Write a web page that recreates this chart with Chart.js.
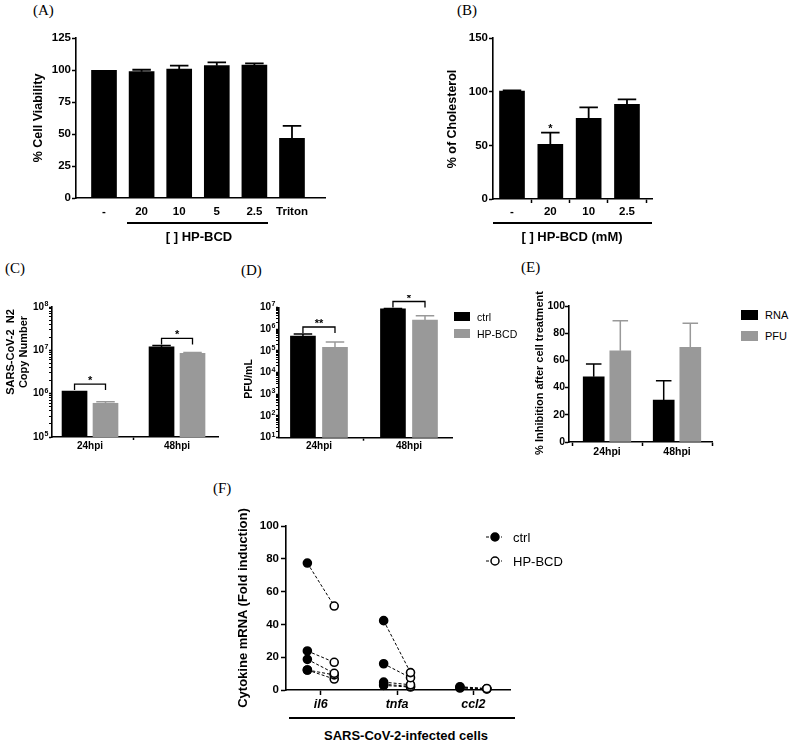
<!DOCTYPE html>
<html><head><meta charset="utf-8">
<script src="https://cdn.jsdelivr.net/npm/chart.js@4/dist/chart.umd.min.js"></script>
<style>
body{margin:0;background:#fff;}
#fig{position:relative;width:790px;height:741px;overflow:hidden;background:#fff;font-family:"Liberation Sans",Arial,sans-serif;color:#000;}
#fig canvas{position:absolute;}
.pl{position:absolute;font-family:"Liberation Serif","Times New Roman",serif;font-size:15px;line-height:1;transform:translateY(-50%);white-space:nowrap;}
.t{position:absolute;white-space:nowrap;line-height:1;transform:translate(-50%,-50%);}
.yt{position:absolute;white-space:nowrap;line-height:1.2;font-weight:bold;text-align:center;transform:translate(-50%,-50%) rotate(-90deg);}
.tl{position:absolute;white-space:nowrap;line-height:1;transform:translateY(-50%);}
.hl{position:absolute;background:#000;}
.sw{position:absolute;}
</style></head><body><div id="fig">
<canvas id="cA"></canvas><canvas id="cB"></canvas><canvas id="cC"></canvas>
<canvas id="cD"></canvas><canvas id="cE"></canvas><canvas id="cF"></canvas>

<div class="pl" style="left:33px;top:10px">(A)</div>
<div class="pl" style="left:457px;top:10px">(B)</div>
<div class="pl" style="left:5px;top:268px">(C)</div>
<div class="pl" style="left:241px;top:270px">(D)</div>
<div class="pl" style="left:521px;top:267px">(E)</div>
<div class="pl" style="left:213px;top:488px">(F)</div>

<div class="yt" style="left:38px;top:118px;font-size:12.5px">% Cell Viability</div>
<div class="yt" style="left:452px;top:118.7px;font-size:12.5px">% of Cholesterol</div>
<div class="yt" style="left:16.7px;top:352px;font-size:11px;line-height:13.4px">SARS-CoV-2&nbsp; N2<br>Copy Number</div>
<div class="yt" style="left:248px;top:379px;font-size:10.5px">PFU/mL</div>
<div class="yt" style="left:540px;top:373px;font-size:11px">% Inhibition after cell treatment</div>
<div class="yt" style="left:243px;top:608px;font-size:13px">Cytokine mRNA (Fold induction)</div>

<div class="hl" style="left:127px;top:222px;width:141px;height:2px"></div>
<div class="t" style="left:199px;top:236px;font-size:13px;font-weight:bold">[ ] HP-BCD</div>
<div class="hl" style="left:493px;top:222px;width:159px;height:2px"></div>
<div class="t" style="left:572px;top:236px;font-size:13px;font-weight:bold">[ ] HP-BCD (mM)</div>

<div class="sw" style="left:454px;top:312px;width:16px;height:9px;background:#000"></div>
<div class="tl" style="left:477px;top:316.5px;font-size:10.5px">ctrl</div>
<div class="sw" style="left:454px;top:329px;width:16px;height:9px;background:#999"></div>
<div class="tl" style="left:477px;top:333.5px;font-size:10.5px">HP-BCD</div>

<div class="sw" style="left:741px;top:310px;width:17px;height:10px;background:#000"></div>
<div class="tl" style="left:765px;top:315px;font-size:11px">RNA</div>
<div class="sw" style="left:741px;top:331px;width:17px;height:10px;background:#999"></div>
<div class="tl" style="left:765px;top:336px;font-size:11px">PFU</div>

<svg class="sw" style="left:485px;top:531px" width="18" height="12"><line x1="1" y1="6" x2="17" y2="6" stroke="#000" stroke-width="1" stroke-dasharray="3,2"/><circle cx="10" cy="6" r="4" fill="#000" stroke="#000" stroke-width="1.5"/></svg>
<div class="tl" style="left:513px;top:537px;font-size:13px">ctrl</div>
<svg class="sw" style="left:485px;top:555px" width="18" height="12"><line x1="1" y1="6" x2="17" y2="6" stroke="#000" stroke-width="1" stroke-dasharray="3,2"/><circle cx="10" cy="6" r="4" fill="#fff" stroke="#000" stroke-width="1.5"/></svg>
<div class="tl" style="left:513px;top:561px;font-size:13px">HP-BCD</div>

<div class="hl" style="left:289px;top:717px;width:226px;height:1.5px"></div>
<div class="t" style="left:406px;top:735px;font-size:13px;font-weight:bold">SARS-CoV-2-infected cells</div>
</div>
<script>
// ---------------- DATA ----------------
const catsA = ['-', '20', '10', '5', '2.5', 'Triton'];
const viabA = [100, 98.9, 101, 103.6, 104.1, 46.7];
const viabErrA = [0, 1.5, 2.6, 2.6, 1.3, 9.7];

const catsB = ['-', '20', '10', '2.5'];
const cholB = [100.8, 51.0, 75.3, 88.4];
const cholErrB = [0.6, 10.9, 10.3, 4.6];
const sigB = ['', '*', '', ''];

const timeCats = ['24hpi', '48hpi'];
const rnaCtrlC = [1.15e6, 1.2e7];
const rnaCtrlErrC = [0, 0.1e7];
const rnaHpC = [6.0e5, 8.5e6];
const rnaHpErrC = [0.5e5, 0.4e6];
const sigC = ['*', '*'];

const pfuCtrlD = [4.8e5, 8.5e6];
const pfuCtrlErrD = [1.1e5, 0.3e6];
const pfuHpD = [1.45e5, 2.6e6];
const pfuHpErrD = [1.05e5, 1.5e6];
const sigD = ['**', '*'];

const inhRnaE = [48, 30.9];
const inhRnaErrE = [9.4, 14.2];
const inhPfuE = [67.1, 69.6];
const inhPfuErrE = [22.1, 17.7];

const genesF = ['il6', 'tnfa', 'ccl2'];
const il6Ctrl = [77.4, 23.8, 18.7, 12.2, 12.2];
const il6Hp = [51.2, 16.9, 10.2, 9.2, 6.7];
const tnfaCtrl = [42.3, 16.0, 4.8, 3.5, 2.8];
const tnfaHp = [10.6, 7.5, 3.2, 2.2, 1.8];
const ccl2Ctrl = [2.0, 1.6, 1.2];
const ccl2Hp = [0.9, 0.8, 0.6];

// ---------------- STYLE ----------------
const FAM = '"Liberation Sans", Arial, sans-serif';
const BLACK = '#000000', GRAY = '#999999';
Chart.defaults.font.family = FAM;
Chart.defaults.color = '#000';
const isPow10 = v => { const e = Math.round(Math.log10(v)); return Math.abs(v - Math.pow(10, e)) < 1e-6 * v; };
function logTicks(lo, hi) {
  const t = [];
  for (let e = lo; e < hi; e++) for (let k = 1; k < 10; k++) t.push({value: k * Math.pow(10, e)});
  t.push({value: Math.pow(10, hi)});
  return t;
}

// exponents of the log-axis labels ("10" is the Chart.js tick label)
const expLabels = {
  id: 'expLabels',
  afterDraw(chart) {
    const ys = chart.scales.y;
    if (ys.type !== 'logarithmic') return;
    const ctx = chart.ctx;
    const x = chart.chartArea.left - ys.options.grid.tickLength - ys.options.ticks.padding + 0.5;
    ctx.save();
    ctx.fillStyle = '#000'; ctx.font = 'bold 7px ' + FAM;
    ctx.textAlign = 'left'; ctx.textBaseline = 'alphabetic';
    ys.ticks.forEach(t => {
      if (!isPow10(t.value)) return;
      ctx.fillText(String(Math.round(Math.log10(t.value))), x, ys.getPixelForValue(t.value) - 1);
    });
    ctx.restore();
  }
};

// error bars, stars, brackets
const annot = {
  id: 'annot',
  afterDatasetsDraw(chart, args, o) {
    const ctx = chart.ctx, ys = chart.scales.y;
    const tops = [], metas = [];
    chart.data.datasets.forEach((ds, di) => {
      const meta = chart.getDatasetMeta(di);
      metas[di] = meta; tops[di] = [];
      meta.data.forEach((bar, i) => {
        const v = ds.data[i].y, e = (ds.errPlus || [])[i] || 0;
        const yt = e ? ys.getPixelForValue(v + e) : bar.y;
        tops[di][i] = yt;
        if (!e) return;
        const hw = bar.width * 0.37;
        ctx.save();
        ctx.strokeStyle = ds.backgroundColor; ctx.lineWidth = o.lw || 1.6;
        ctx.beginPath();
        ctx.moveTo(bar.x, bar.y); ctx.lineTo(bar.x, yt);
        ctx.moveTo(bar.x - hw, yt); ctx.lineTo(bar.x + hw, yt);
        ctx.stroke(); ctx.restore();
      });
    });
    ctx.save();
    ctx.fillStyle = '#000'; ctx.strokeStyle = '#000'; ctx.lineWidth = 1.3;
    ctx.font = 'bold 11px ' + FAM; ctx.textAlign = 'center'; ctx.textBaseline = 'alphabetic';
    if (o.stars) o.stars.forEach((s, i) => {
      if (!s) return;
      ctx.fillText(s, metas[0].data[i].x, tops[0][i] - 1);
    });
    if (o.brackets) o.brackets.forEach((s, i) => {
      const x1 = metas[0].data[i].x, x2 = metas[1].data[i].x;
      const yl = Math.min(tops[0][i], tops[1][i]) - 7;
      ctx.beginPath();
      ctx.moveTo(x1, yl + 6); ctx.lineTo(x1, yl); ctx.lineTo(x2, yl); ctx.lineTo(x2, yl + 6);
      ctx.stroke();
      ctx.fillText(s, (x1 + x2) / 2, yl);
    });
    ctx.restore();
  }
};

function setup(id, g) {
  const cv = document.getElementById(id);
  const w = g.x1 - g.x0, h = g.y1 - g.y0;
  cv.width = w; cv.height = h;
  cv.style.left = g.x0 + 'px'; cv.style.top = g.y0 + 'px';
  cv.style.width = w + 'px'; cv.style.height = h + 'px';
  return cv;
}

function axisX(g, cats, xmin, xmax, o) {
  return {
    type: 'linear', min: xmin, max: xmax, offset: false,
    afterBuildTicks: s => { s.ticks = cats.map((c, i) => ({value: i})); },
    afterFit: s => { s.height = g.y1 - g.B; },
    ticks: {callback: v => cats[v], autoSkip: false, maxRotation: 0, padding: o.pad,
            font: Object.assign({weight: 'bold', size: o.size}, o.font || {})},
    grid: {display: true, drawOnChartArea: false, drawTicks: o.ticks, tickLength: o.tl || 4,
           color: '#000', tickWidth: 1.5},
    border: {display: true, color: '#000', width: 1.6}
  };
}

function axisY(g, o) {
  const ax = {
    type: o.log ? 'logarithmic' : 'linear',
    min: o.min, max: o.max,
    afterFit: s => { s.width = g.L - g.x0; },
    ticks: {autoSkip: false, padding: o.pad === undefined ? 1 : o.pad,
            font: {weight: 'bold', size: o.size}},
    grid: {display: true, drawOnChartArea: false, drawTicks: true, tickLength: o.tl || 4,
           color: '#000', tickWidth: o.log ? (c => isPow10(c.tick.value) ? 1.5 : 1) : 1.5},
    border: {display: true, color: '#000', width: 1.6},
    title: {display: false}
  };
  if (o.log) {
    ax.afterBuildTicks = s => { s.ticks = logTicks(o.lo, o.hi); };
    ax.ticks.callback = v => isPow10(v) ? '10' : '';
  } else {
    ax.ticks.stepSize = o.step;
  }
  return ax;
}

function barChart(id, g, datasets, xs, ys, annotOpts) {
  const cv = setup(id, g);
  return new Chart(cv, {
    type: 'bar',
    data: {datasets},
    options: {
      responsive: false, animation: false, devicePixelRatio: 1,
      layout: {padding: {left: 0, top: g.T - g.y0, right: g.x1 - g.R, bottom: 0}},
      datasets: {bar: {grouped: false, borderWidth: 0}},
      plugins: {legend: {display: false}, tooltip: {enabled: false}, annot: annotOpts},
      scales: {x: xs, y: ys}
    },
    plugins: [annot, expLabels]
  });
}

function barData(cats, vals, errs, off, color, thick) {
  return {data: vals.map((v, i) => ({x: i + off, y: v})), errPlus: errs,
          backgroundColor: color, barThickness: thick};
}

// ---------------- PANEL A ----------------
const gA = {x0: 0, y0: 20, x1: 340, y1: 230, L: 76, R: 325, T: 38.3, B: 198};
barChart('cA', gA,
  [barData(catsA, viabA, viabErrA, 0, BLACK, 25)],
  axisX(gA, catsA, -0.745, 5.878, {ticks: false, pad: 7, size: 11.5}),
  axisY(gA, {min: 0, max: 125, step: 25, size: 11.5}),
  {lw: 1.8});

// ---------------- PANEL B ----------------
const gB = {x0: 420, y0: 20, x1: 665, y1: 232, L: 493, R: 652, T: 38.3, B: 199};
barChart('cB', gB,
  [barData(catsB, cholB, cholErrB, 0, BLACK, 25)],
  axisX(gB, catsB, -0.496, 3.653, {ticks: true, pad: 2, size: 11.5}),
  axisY(gB, {min: 0, max: 150, step: 50, size: 11.5}),
  {lw: 1.8, stars: sigB});

// ---------------- PANEL C ----------------
const gC = {x0: 0, y0: 295, x1: 232, y1: 462, L: 52, R: 218, T: 307, B: 437};
const OFF_C = 0.178;
barChart('cC', gC,
  [barData(timeCats, rnaCtrlC, rnaCtrlErrC, -OFF_C, BLACK, 25),
   barData(timeCats, rnaHpC, rnaHpErrC, OFF_C, GRAY, 25)],
  axisX(gC, timeCats, -0.437, 1.471, {ticks: true, tl: 3, pad: 0, size: 10}),
  axisY(gC, {log: true, min: 1e5, max: 1e8, lo: 5, hi: 8, size: 10, tl: 3, pad: 5}),
  {lw: 1.5, brackets: sigC});

// ---------------- PANEL D ----------------
const gD = {x0: 236, y0: 295, x1: 460, y1: 462, L: 279, R: 452, T: 307.3, B: 437.7};
const OFF_D = 0.178;
barChart('cD', gD,
  [barData(timeCats, pfuCtrlD, pfuCtrlErrD, -OFF_D, BLACK, 25),
   barData(timeCats, pfuHpD, pfuHpErrD, OFF_D, GRAY, 25)],
  axisX(gD, timeCats, -0.444, 1.478, {ticks: true, tl: 3, pad: 0, size: 10}),
  axisY(gD, {log: true, min: 1e1, max: 1e7, lo: 1, hi: 7, size: 10, tl: 3, pad: 5}),
  {lw: 1.5, brackets: sigD});

// ---------------- PANEL E ----------------
const gE = {x0: 525, y0: 295, x1: 720, y1: 462, L: 569, R: 712, T: 306, B: 442};
const OFF_E = 0.19;
barChart('cE', gE,
  [barData(timeCats, inhRnaE, inhRnaErrE, -OFF_E, BLACK, 21),
   barData(timeCats, inhPfuE, inhPfuErrE, OFF_E, GRAY, 21)],
  axisX(gE, timeCats, -0.543, 1.5, {ticks: true, tl: 4, pad: 0, size: 10.5}),
  axisY(gE, {min: 0, max: 100, step: 20, size: 10.5, tl: 4, pad: 0}),
  {lw: 1.5});

// ---------------- PANEL F ----------------
const gF = {x0: 225, y0: 512, x1: 520, y1: 715, L: 286, R: 510, T: 526, B: 690};
const OFF_F = 0.176;
const pairsF = [[il6Ctrl, il6Hp], [tnfaCtrl, tnfaHp], [ccl2Ctrl, ccl2Hp]];
const dsF = [];
pairsF.forEach(([c, h], gi) => c.forEach((v, k) => dsF.push({
  data: [{x: gi - OFF_F, y: v}, {x: gi + OFF_F, y: h[k]}],
  showLine: true, borderColor: '#000', borderWidth: 1, borderDash: [3, 2],
  pointRadius: 4, pointBorderWidth: 1.6, pointBorderColor: '#000',
  pointBackgroundColor: ['#000', '#fff'], clip: false
})));
new Chart(setup('cF', gF), {
  type: 'scatter',
  data: {datasets: dsF},
  options: {
    responsive: false, animation: false, devicePixelRatio: 1,
    layout: {padding: {left: 0, top: gF.T - gF.y0, right: gF.x1 - gF.R, bottom: 0}},
    plugins: {legend: {display: false}, tooltip: {enabled: false}},
    scales: {
      x: axisX(gF, genesF, -0.456, 2.48, {ticks: true, tl: 5, pad: 2.5, size: 12.5, font: {style: 'italic'}}),
      y: axisY(gF, {min: 0, max: 100, step: 20, size: 11.5, tl: 5, pad: 2})
    }
  }
});
</script>
</body></html>
